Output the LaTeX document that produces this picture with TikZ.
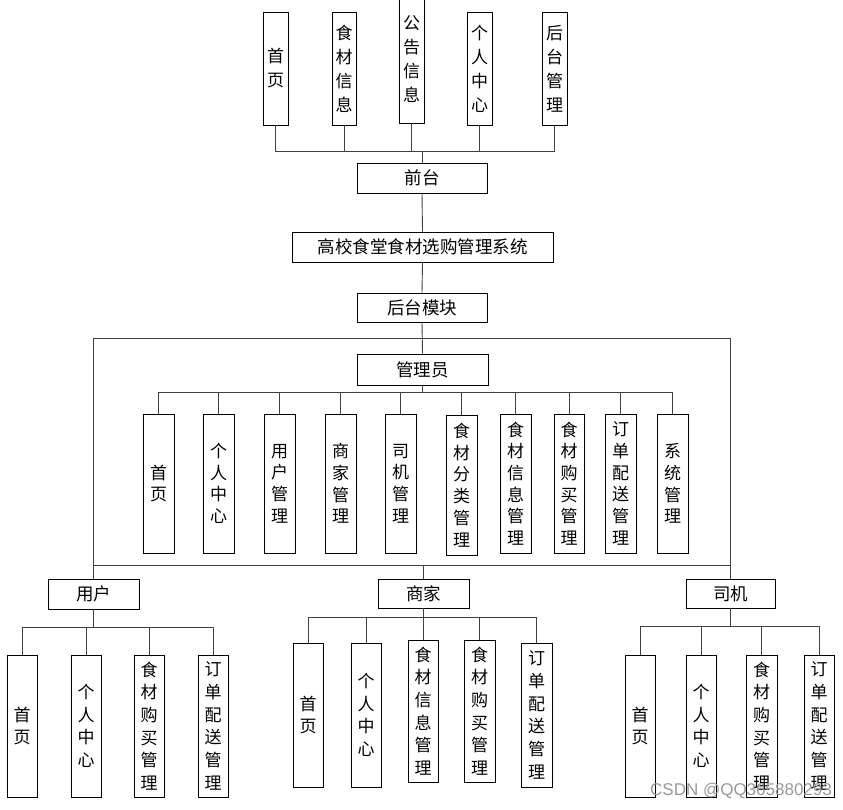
\documentclass[tikz,border=0pt]{standalone}
\usepackage{fontspec}
\setmainfont{Noto Sans CJK SC}
\newfontfamily\wmfont{Liberation Sans}
\begin{document}
\begin{tikzpicture}[x=1pt,y=-1pt,
  box/.style={draw=black, line width=0.8pt, inner sep=0pt, align=center, fill=white},
  hbox/.style={box, font=\fontsize{17.5}{19}\selectfont},
  vtop/.style={box, font=\fontsize{17}{24}\selectfont},
  vadm/.style={box, font=\fontsize{17}{21.7}\selectfont},
  vbot/.style={box, font=\fontsize{17}{22.7}\selectfont},
  conn/.style={draw=black!75, line width=0.9pt}]
\useasboundingbox (0,0) rectangle (843,810);

% ---------- top (front end) ----------
\node[vtop, minimum width=25pt, minimum height=113pt] (t1) at (275.5,68.5) {首\\页};
\node[vtop, minimum width=24pt, minimum height=113pt] (t2) at (344,68.5) {食\\材\\信\\息};
\node[vtop, minimum width=25pt, minimum height=128pt] (t3) at (411.5,59) {公\\告\\信\\息};
\node[vtop, minimum width=25pt, minimum height=113pt] (t4) at (479.5,68.5) {个\\人\\中\\心};
\node[vtop, minimum width=25pt, minimum height=113pt] (t5) at (554.5,68.5) {后\\台\\管\\理};

\node[hbox, minimum width=130pt, minimum height=30pt] (qt) at (422,178) {前台};
\foreach \c in {t1,t2,t3,t4,t5}{
  \draw[conn] (qt.north) -- ++(0,-11) -| (\c.south);
}

\node[hbox, minimum width=261pt, minimum height=30pt] (sys) at (422.5,247) {高校食堂食材选购管理系统};
\node[hbox, minimum width=130pt, minimum height=29pt] (ht) at (422,307.5) {后台模块};
\draw[conn] (qt.south) -- (sys.north);
\draw[conn] (sys.south) -- (ht.north);

% ---------- admin ----------
\node[hbox, minimum width=131pt, minimum height=31pt] (gly) at (422.5,369.5) {管理员};
\draw[conn] (ht.south) -- (gly.north);

\node[vadm, minimum width=31pt, minimum height=139pt] (a1) at (158.5,483.5) {首\\页};
\node[vadm, minimum width=31pt, minimum height=139pt] (a2) at (218.5,483.5) {个\\人\\中\\心};
\node[vadm, minimum width=31pt, minimum height=139pt] (a3) at (279.5,483.5) {用\\户\\管\\理};
\node[vadm, minimum width=31pt, minimum height=139pt] (a4) at (340.5,483.5) {商\\家\\管\\理};
\node[vadm, minimum width=31pt, minimum height=139pt] (a5) at (400.5,483.5) {司\\机\\管\\理};
\node[vadm, minimum width=31pt, minimum height=140pt] (a6) at (461.5,485) {食\\材\\分\\类\\管\\理};
\node[vadm, minimum width=31pt, minimum height=139pt] (a7) at (515.5,483.5) {食\\材\\信\\息\\管\\理};
\node[vadm, minimum width=30pt, minimum height=139pt] (a8) at (569,483.5) {食\\材\\购\\买\\管\\理};
\node[vadm, minimum width=31pt, minimum height=139pt] (a9) at (620.5,483.5) {订\\单\\配\\送\\管\\理};
\node[vadm, minimum width=31pt, minimum height=139pt] (a10) at (672.5,483.5) {系\\统\\管\\理};
\foreach \c in {a1,a2,a3,a4,a5,a6,a7,a8,a9,a10}{
  \draw[conn] (gly.south) -- ++(0,7) -| (\c.north);
}

% ---------- roles ----------
\node[hbox, minimum width=91pt, minimum height=30pt] (yh) at (93.5,594) {用户};
\node[hbox, minimum width=91pt, minimum height=29pt] (sh) at (423.5,593.5) {商家};
\node[hbox, minimum width=89pt, minimum height=29pt] (sj) at (730.5,593.5) {司机};

\coordinate (ftop) at (94,338);
\coordinate (fmid) at (94,565);
\draw[conn] (yh.north) -- (yh.north |- ftop) -- (sj.north |- ftop) -- (sj.north);
\draw[conn] (yh.north |- fmid) -- (sj.north |- fmid);
\draw[conn] (sh.north) -- (sh.north |- fmid);

% user children
\node[vbot, minimum width=30pt, minimum height=142pt] (u1) at (22,726) {首\\页};
\node[vbot, minimum width=30pt, minimum height=142pt] (u2) at (86,726) {个\\人\\中\\心};
\node[vbot, minimum width=30pt, minimum height=142pt] (u3) at (149,726) {食\\材\\购\\买\\管\\理};
\node[vbot, minimum width=30pt, minimum height=142pt] (u4) at (213,726) {订\\单\\配\\送\\管\\理};
\foreach \c in {u1,u2,u3,u4}{
  \draw[conn] (yh.south) -- ++(0,18) -| (\c.north);
}

% merchant children
\node[vbot, minimum width=30pt, minimum height=144pt] (m1) at (308,715) {首\\页};
\node[vbot, minimum width=30pt, minimum height=144pt] (m2) at (366,715) {个\\人\\中\\心};
\node[vbot, minimum width=30pt, minimum height=142pt] (m3) at (423,711) {食\\材\\信\\息\\管\\理};
\node[vbot, minimum width=31pt, minimum height=142pt] (m4) at (479.5,711) {食\\材\\购\\买\\管\\理};
\node[vbot, minimum width=31pt, minimum height=144pt] (m5) at (536.5,715) {订\\单\\配\\送\\管\\理};
\foreach \c in {m1,m2,m3,m4,m5}{
  \draw[conn] (sh.south) -- ++(0,9) -| (\c.north);
}

% driver children
\node[vbot, minimum width=30pt, minimum height=142pt] (d1) at (640,726) {首\\页};
\node[vbot, minimum width=30pt, minimum height=142pt] (d2) at (701,726) {个\\人\\中\\心};
\node[vbot, minimum width=31pt, minimum height=142pt] (d3) at (761.5,726) {食\\材\\购\\买\\管\\理};
\node[vbot, minimum width=30pt, minimum height=142pt] (d4) at (819,726) {订\\单\\配\\送\\管\\理};
\foreach \c in {d1,d2,d3,d4}{
  \draw[conn] (sj.south) -- ++(0,18) -| (\c.north);
}

% watermark
\node[font=\wmfont\fontsize{17}{17}\selectfont, text=black!40, inner sep=0pt] (wm) at (741,791) {CSDN @QQ365880293};
\end{tikzpicture}
\end{document}
